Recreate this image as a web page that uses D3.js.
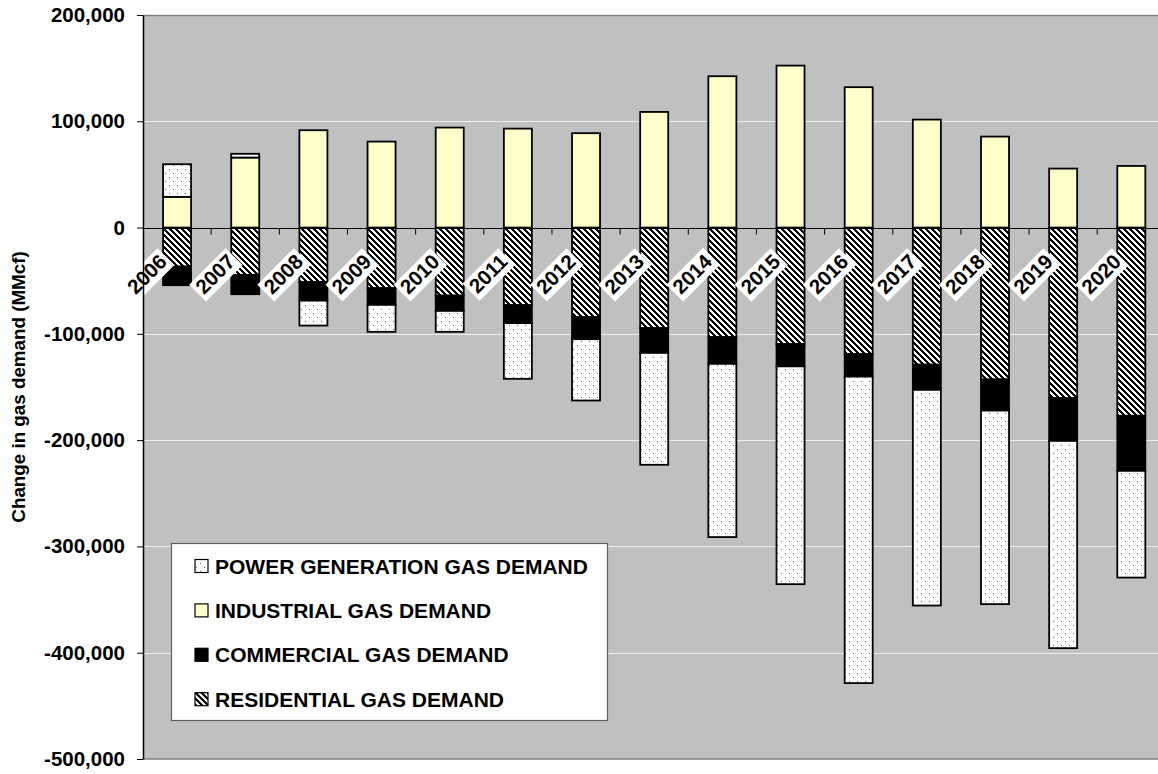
<!DOCTYPE html>
<html>
<head>
<meta charset="utf-8">
<script src="https://cdn.jsdelivr.net/npm/d3@7"></script>
<style>
  html, body { margin: 0; padding: 0; background: #fff; }
  svg { display: block; }
  text { font-family: "Liberation Sans", Arial, sans-serif; font-weight: bold; fill: #000; }
</style>
</head>
<body>
<svg id="chart" width="1158" height="774"></svg>
<script>
// Annual change in gas demand by sector (MMcf)
const years = ["2006","2007","2008","2009","2010","2011","2012","2013","2014","2015","2016","2017","2018","2019","2020"];
const residential = [-36700, -44500, -51100, -57000, -64000, -73000, -84300, -94400, -103100, -109600, -119100, -129000, -142900, -160500, -177100];
const commercial  = [-17500, -18200, -17600, -15700, -14400, -16900, -20700, -23500, -25100, -21000, -21100, -23700, -29300, -40200, -51800];
const industrial  = [28900, 65900, 91600, 80900, 94100, 93100, 88800, 108800, 142400, 152400, 132100, 101600, 85600, 55500, 58000];
const power       = [30700, 3500, -23500, -25400, -19700, -52400, -57700, -105300, -163000, -204900, -288400, -202900, -182100, -195000, -100400];
const yTicks = [-500000, -400000, -300000, -200000, -100000, 0, 100000, 200000];

const seriesKeys = ["residential", "commercial", "industrial", "power"];
const legendItems = [
  { key: "power",       label: "POWER GENERATION GAS DEMAND" },
  { key: "industrial",  label: "INDUSTRIAL GAS DEMAND" },
  { key: "commercial",  label: "COMMERCIAL GAS DEMAND" },
  { key: "residential", label: "RESIDENTIAL GAS DEMAND" }
];

const rows = years.map((yr, i) => ({
  year: yr,
  residential: residential[i],
  commercial: commercial[i],
  industrial: industrial[i],
  power: power[i]
}));

const svg = d3.select("#chart");
const defs = svg.append("defs");

// Sparse dot fill for power generation
const dots = defs.append("pattern").attr("id", "pat-power")
  .attr("patternUnits", "userSpaceOnUse").attr("width", 8).attr("height", 8);
dots.append("rect").attr("width", 8).attr("height", 8).attr("fill", "#fff");
dots.append("rect").attr("x", 1).attr("y", 1).attr("width", 1).attr("height", 1).attr("fill", "#666");
dots.append("rect").attr("x", 5).attr("y", 5).attr("width", 1).attr("height", 1).attr("fill", "#666");

// Wide downward diagonal hatch for residential
const P = 6, W = 3;
const hatch = defs.append("pattern").attr("id", "pat-res")
  .attr("patternUnits", "userSpaceOnUse").attr("width", P).attr("height", P);
hatch.append("rect").attr("width", P).attr("height", P).attr("fill", "#fff");
for (let r = 0; r < P; r++) {
  for (let c = 0; c < P; c++) {
    if (((c - r) % P + P) % P < W) {
      hatch.append("rect").attr("x", c).attr("y", r).attr("width", 1).attr("height", 1)
        .attr("fill", "#000").attr("shape-rendering", "crispEdges");
    }
  }
}

const fills = {
  residential: "url(#pat-res)",
  commercial: "#000",
  industrial: "#FFFFCC",
  power: "url(#pat-power)"
};

const plot = { left: 143, top: 15, right: 1165.4, bottom: 759 };

const x = d3.scaleBand().domain(years)
  .range([plot.left, plot.right])
  .paddingInner(0.589).paddingOuter(0.2945);
const y = d3.scaleLinear().domain([-500000, 200000]).range([plot.bottom, plot.top]);

// Plot background
svg.append("rect")
  .attr("x", plot.left).attr("y", plot.top)
  .attr("width", plot.right - plot.left).attr("height", plot.bottom - plot.top)
  .attr("fill", "#C0C0C0");

// Horizontal gridlines
svg.append("g").selectAll("line")
  .data(yTicks.filter(v => v !== 0 && v !== -500000 && v !== 200000))
  .join("line")
  .attr("x1", plot.left).attr("x2", plot.right)
  .attr("y1", d => Math.round(y(d)) + 0.5).attr("y2", d => Math.round(y(d)) + 0.5)
  .attr("stroke", "#EFEFEF").attr("stroke-width", 1);

// Plot border (top and bottom)
svg.append("line").attr("x1", plot.left).attr("x2", plot.right)
  .attr("y1", plot.top + 0.5).attr("y2", plot.top + 0.5)
  .attr("stroke", "#808080").attr("stroke-width", 1.5);
svg.append("line").attr("x1", plot.left).attr("x2", plot.right)
  .attr("y1", plot.bottom).attr("y2", plot.bottom)
  .attr("stroke", "#808080").attr("stroke-width", 1.5);

// Stacked bars, positives up from zero and negatives down
const stacked = d3.stack().keys(seriesKeys).offset(d3.stackOffsetDiverging)(rows);

svg.append("g").selectAll("g")
  .data(stacked)
  .join("g")
  .attr("fill", s => fills[s.key])
  .selectAll("rect")
  .data(s => s.filter(d => d[1] !== d[0]))
  .join("rect")
  .attr("x", d => x(d.data.year))
  .attr("width", x.bandwidth())
  .attr("y", d => y(Math.max(d[0], d[1])))
  .attr("height", d => Math.abs(y(d[0]) - y(d[1])))
  .attr("stroke", "#000")
  .attr("stroke-width", 1.8);

// Zero line with category boundary ticks
const zeroY = Math.round(y(0)) + 0.5;
svg.append("line").attr("x1", plot.left).attr("x2", plot.right)
  .attr("y1", zeroY).attr("y2", zeroY).attr("stroke", "#000").attr("stroke-width", 1.2);
svg.append("g").selectAll("line")
  .data(d3.range(1, years.length))
  .join("line")
  .attr("x1", k => plot.left + k * x.step()).attr("x2", k => plot.left + k * x.step())
  .attr("y1", zeroY).attr("y2", zeroY + 6)
  .attr("stroke", "#000").attr("stroke-width", 1);

// Rotated year labels on white boxes
const labels = svg.append("g").selectAll("g")
  .data(years)
  .join("g")
  .attr("transform", d => `translate(${x(d) + x.bandwidth() / 2 - 9},263) rotate(-45)`);
labels.append("rect").attr("class", "bg").attr("fill", "#fff");
labels.append("text")
  .attr("text-anchor", "end")
  .attr("font-size", 20.5)
  .text(d => d);
labels.each(function () {
  const g = d3.select(this);
  const bb = g.select("text").node().getBBox();
  g.select("rect.bg")
    .attr("x", bb.x - 3).attr("y", bb.y + 1)
    .attr("width", bb.width + 6).attr("height", bb.height + 1);
});

// Value axis
const fmt = d3.format(",");
const yAxis = d3.axisLeft(y)
  .tickValues(yTicks)
  .tickFormat(d => fmt(d).replace("\u2212", "-"))
  .tickSize(6).tickSizeOuter(0).tickPadding(12);
const yg = svg.append("g").attr("transform", `translate(${plot.left},0)`).call(yAxis);
yg.select(".domain").attr("stroke", "#000").attr("stroke-width", 1.5);
yg.selectAll(".tick line").attr("stroke", "#000");
yg.selectAll(".tick text")
  .attr("font-size", 20.5)
  .attr("font-family", "'Liberation Sans', Arial, sans-serif")
  .attr("font-weight", "bold")
  .attr("fill", "#000");

// Axis title
svg.append("text")
  .attr("transform", "translate(25,387) rotate(-90)")
  .attr("text-anchor", "middle")
  .attr("font-size", 18.8)
  .text("Change in gas demand (MMcf)");

// Legend
const lg = svg.append("g");
lg.append("rect")
  .attr("x", 171.5).attr("y", 543.5).attr("width", 436).attr("height", 177)
  .attr("fill", "#fff").attr("stroke", "#606060").attr("stroke-width", 1.2);
const li = lg.selectAll("g.item")
  .data(legendItems)
  .join("g").attr("class", "item")
  .attr("transform", (d, i) => `translate(195,${566 + i * 44.4})`);
li.append("rect")
  .attr("x", 0).attr("y", -6.5).attr("width", 13).attr("height", 13)
  .attr("fill", d => fills[d.key]).attr("stroke", "#000").attr("stroke-width", 1.2);
li.append("text")
  .attr("x", 20).attr("y", 0).attr("dy", "0.36em")
  .attr("font-size", 21)
  .text(d => d.label);
</script>
</body>
</html>
